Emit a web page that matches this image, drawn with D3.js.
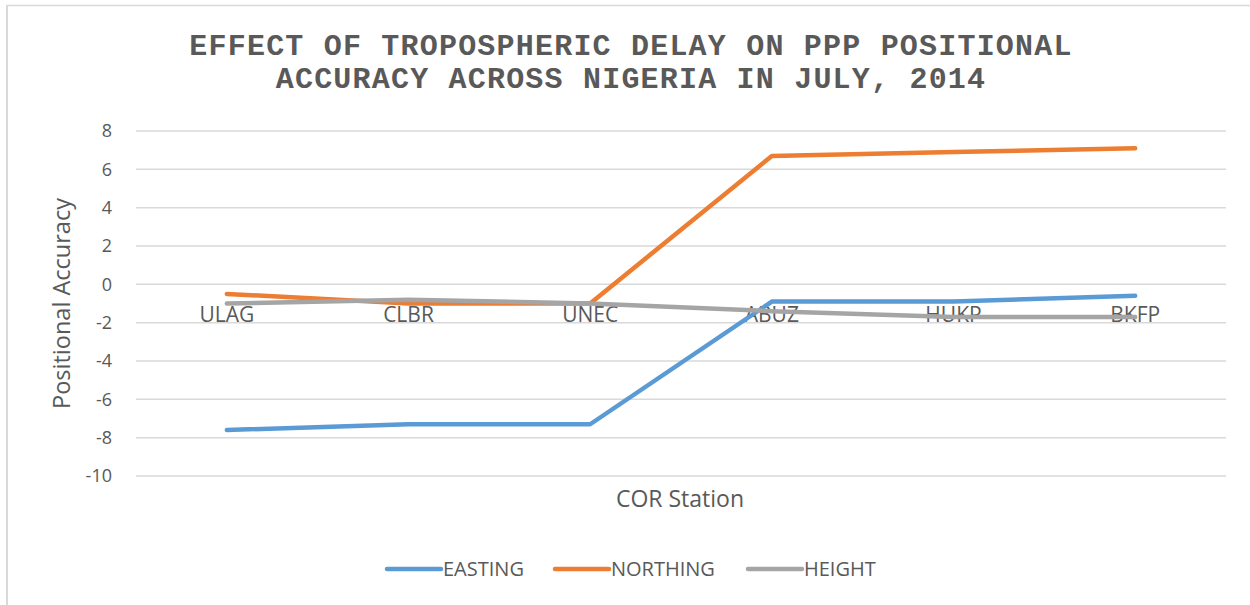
<!DOCTYPE html>
<html>
<head>
<meta charset="utf-8">
<script src="https://cdn.jsdelivr.net/npm/d3@7"></script>
<style>
  body { margin: 0; background: #fff; }
  svg { display: block; }
</style>
</head>
<body>
<div id="chart"></div>
<script>
// station categories and series values
const stations = ["ULAG", "CLBR", "UNEC", "ABUZ", "HUKP", "BKFP"];
const easting = [-7.6, -7.3, -7.3, -0.9, -0.9, -0.6];
const northing = [-0.5, -1.0, -1.0, 6.7, 6.9, 7.1];
const height = [-1.0, -0.8, -1.0, -1.4, -1.7, -1.7];
const yTicks = [8, 6, 4, 2, 0, -2, -4, -6, -8, -10];

const seriesNames = ["EASTING", "NORTHING", "HEIGHT"];
const seriesColors = ["#5B9BD5", "#ED7D31", "#A5A5A5"];
const seriesValues = [easting, northing, height];

const W = 1250, H = 605;
const margin = { top: 131, right: 24, bottom: 129, left: 136 };

const svg = d3
  .select("#chart")
  .append("svg")
  .attr("width", W)
  .attr("height", H);

// chart frame (only top and left edges show in the picture)
svg.append("line")
  .attr("x1", 6).attr("x2", W).attr("y1", 5.5).attr("y2", 5.5)
  .attr("stroke", "#d9d9d9").attr("stroke-width", 1.5);
svg.append("line")
  .attr("x1", 7).attr("x2", 7).attr("y1", 5).attr("y2", H)
  .attr("stroke", "#d9d9d9").attr("stroke-width", 2);

// title
const title = svg.append("text")
  .attr("text-anchor", "middle")
  .attr("fill", "#595959")
  .style("font-family", "'Liberation Mono', 'Courier New', monospace")
  .style("font-weight", "bold")
  .style("font-size", "30px")
  .style("letter-spacing", "1.2px");
title.append("tspan").attr("x", 631).attr("y", 55)
  .text("EFFECT OF TROPOSPHERIC DELAY ON PPP POSITIONAL");
title.append("tspan").attr("x", 631).attr("y", 88)
  .text("ACCURACY ACROSS NIGERIA IN JULY, 2014");

const x = d3.scaleBand()
  .domain(stations)
  .range([margin.left, W - margin.right]);

const y = d3.scaleLinear()
  .domain([-10, 8])
  .range([H - margin.bottom, margin.top]);

const font = "'Open Sans', Lato, sans-serif";

// gridlines
svg.append("g")
  .selectAll("line")
  .data(yTicks)
  .join("line")
  .attr("x1", margin.left)
  .attr("x2", W - margin.right)
  .attr("y1", (d) => y(d))
  .attr("y2", (d) => y(d))
  .attr("stroke", "#d9d9d9")
  .attr("stroke-width", 1.5);

// y tick labels
svg.append("g")
  .selectAll("text")
  .data(yTicks)
  .join("text")
  .attr("x", 112)
  .attr("y", (d) => y(d))
  .attr("dy", "0.35em")
  .attr("text-anchor", "end")
  .attr("fill", "#595959")
  .style("font-family", font)
  .style("font-size", "18px")
  .text((d) => d);

// category labels sit just under the zero line
svg.append("g")
  .selectAll("text")
  .data(stations)
  .join("text")
  .attr("x", (d) => x(d) + x.bandwidth() / 2)
  .attr("y", y(0) + 38)
  .attr("text-anchor", "middle")
  .attr("fill", "#595959")
  .style("font-family", font)
  .style("font-size", "21px")
  .text((d) => d);

// axis titles
svg.append("text")
  .attr("transform", `translate(70,${(margin.top + H - margin.bottom) / 2}) rotate(-90)`)
  .attr("text-anchor", "middle")
  .attr("fill", "#595959")
  .style("font-family", font)
  .style("font-size", "23.5px")
  .text("Positional Accuracy");

svg.append("text")
  .attr("x", 680)
  .attr("y", 507)
  .attr("text-anchor", "middle")
  .attr("fill", "#595959")
  .style("font-family", font)
  .style("font-size", "23px")
  .text("COR Station");

// series lines
const line = d3.line()
  .x((d, i) => x(stations[i]) + x.bandwidth() / 2)
  .y((d) => y(d));

svg.append("g")
  .selectAll("path")
  .data(seriesValues)
  .join("path")
  .attr("d", line)
  .attr("fill", "none")
  .attr("stroke", (d, i) => seriesColors[i])
  .attr("stroke-width", 4.5)
  .attr("stroke-linecap", "round")
  .attr("stroke-linejoin", "round");

// legend
const legendX = [387, 555, 748];
const legend = svg.append("g")
  .selectAll("g")
  .data(seriesNames)
  .join("g")
  .attr("transform", (d, i) => `translate(${legendX[i]},569)`);

legend.append("line")
  .attr("x1", 0).attr("x2", 54)
  .attr("stroke", (d, i) => seriesColors[i])
  .attr("stroke-width", 4.5)
  .attr("stroke-linecap", "round");

legend.append("text")
  .attr("x", 56)
  .attr("dy", "0.35em")
  .attr("fill", "#595959")
  .style("font-family", font)
  .style("font-size", "20px")
  .text((d) => d);
</script>
</body>
</html>
